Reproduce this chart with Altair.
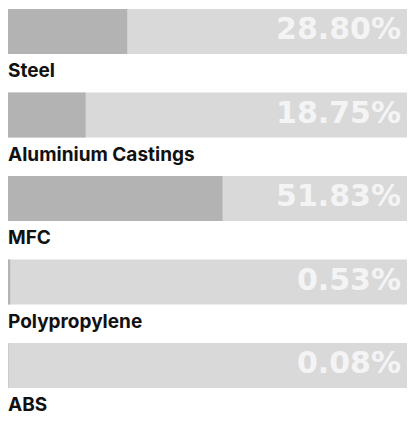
import altair as alt
import pandas as pd

materials = ["Steel", "Aluminium Castings", "MFC", "Polypropylene", "ABS"]
shares = [28.80, 18.75, 51.83, 0.53, 0.08]
share_labels = ["28.80%", "18.75%", "51.83%", "0.53%", "0.08%"]
totals = [100, 100, 100, 100, 100]

df = pd.DataFrame({
    "material": materials,
    "share": shares,
    "label": share_labels,
    "total": totals,
})

# the full-width track runs past the right edge of the frame, so it is clamped
xscale = alt.Scale(domain=[0, 96.4], nice=False, zero=True, clamp=True)
yenc = alt.Y("material:N", sort=materials,
             scale=alt.Scale(type="point", padding=0, range=[0, 334]), axis=None)

base = alt.Chart(df)

bg = base.mark_bar(color="#d9d9d9", size=45, yOffset=23.5).encode(
    x=alt.X("total:Q", scale=xscale, axis=None),
    y=yenc,
)

fg = base.mark_bar(color="#b3b3b3", size=45, yOffset=23.5).encode(
    x=alt.X("share:Q", scale=xscale, axis=None),
    y=yenc,
)

pct = base.mark_text(align="right", baseline="alphabetic", dx=-6, yOffset=31.3,
                     font="DejaVu Sans", fontWeight="bold", fontSize=30,
                     color="#f4f4f4").encode(
    x=alt.X("total:Q", scale=xscale, axis=None),
    y=yenc,
    text="label:N",
)

names = base.mark_text(align="left", baseline="alphabetic", yOffset=69,
                       font="Inter", fontWeight="bold", fontSize=19,
                       color="#111111").encode(
    x=alt.value(0),
    y=yenc,
    text="material:N",
)

chart = alt.layer(bg, fg, pct, names).properties(
    width=399, height=409, padding=0,
    autosize=alt.AutoSizeParams(type="none"),
).configure_view(stroke=None)

chart.save("out.html", embed_options={"renderer": "svg", "actions": False})
